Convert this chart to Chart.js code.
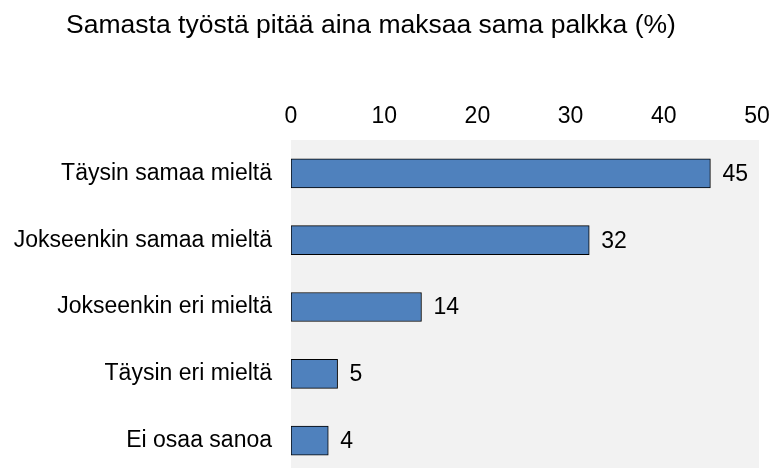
<!DOCTYPE html>
<html>
<head>
<meta charset="utf-8">
<style>
  html, body { margin: 0; padding: 0; background: #fff; overflow: hidden; }
  canvas { display: block; }
</style>
</head>
<body>
<canvas id="chart" width="769" height="474"></canvas>
<script src="https://cdn.jsdelivr.net/npm/chart.js@4"></script>
<script>
var categories = ['Täysin samaa mieltä', 'Jokseenkin samaa mieltä', 'Jokseenkin eri mieltä', 'Täysin eri mieltä', 'Ei osaa sanoa'];
var values = [45, 32, 14, 5, 4];
var titleText = 'Samasta työstä pitää aina maksaa sama palkka (%)';
var FONT = '"Liberation Sans", Arial, sans-serif';

// grey plot background, a touch wider than the scale on the right
var plotBg = {
    id: 'plotBg',
    beforeDraw: function (chart) {
        var a = chart.chartArea, ctx = chart.ctx;
        ctx.save();
        ctx.fillStyle = '#f2f2f2';
        ctx.fillRect(a.left, a.top, a.right - a.left + 2, a.bottom - a.top);
        ctx.restore();
    }
};

var titleDraw = {
    id: 'titleDraw',
    afterDraw: function (chart) {
        var ctx = chart.ctx;
        ctx.save();
        ctx.font = '26.5px ' + FONT;
        ctx.fillStyle = '#000';
        ctx.textAlign = 'center';
        ctx.textBaseline = 'alphabetic';
        ctx.fillText(titleText, 371, 33);
        ctx.restore();
    }
};

var valueLabels = {
    id: 'valueLabels',
    afterDatasetsDraw: function (chart) {
        var ctx = chart.ctx;
        var meta = chart.getDatasetMeta(0);
        ctx.save();
        ctx.font = '23px ' + FONT;
        ctx.fillStyle = '#000';
        ctx.textAlign = 'left';
        ctx.textBaseline = 'middle';
        meta.data.forEach(function (bar, i) {
            ctx.fillText(values[i], bar.x + 12, bar.y + 1);
        });
        ctx.restore();
    }
};

var ctx = document.getElementById('chart').getContext('2d');
var chart = new Chart(ctx, {
    type: 'bar',
    data: {
        labels: categories,
        datasets: [{
            data: values,
            backgroundColor: '#4f81bd',
            borderColor: '#000',
            borderWidth: 1,
            borderSkipped: false,
            barThickness: 29
        }]
    },
    options: {
        indexAxis: 'y',
        responsive: false,
        animation: false,
        layout: { padding: { top: 100, right: 12, left: 0, bottom: 0 } },
        plugins: {
            legend: { display: false },
            tooltip: { enabled: false }
        },
        scales: {
            x: {
                position: 'top',
                min: 0,
                max: 50,
                grid: { display: false, drawTicks: false },
                border: { display: false },
                ticks: {
                    stepSize: 10,
                    padding: 10,
                    color: '#000',
                    font: { family: FONT, size: 23 }
                },
                afterFit: function (s) {
                    s.height = 40;
                    s.paddingLeft = 0;
                    s.paddingRight = 0;
                }
            },
            y: {
                grid: { display: false, drawTicks: false },
                border: { display: false },
                ticks: {
                    padding: 19,
                    color: '#000',
                    font: { family: FONT, size: 23 }
                },
                afterFit: function (s) {
                    s.width = 291;
                    s.paddingTop = 0;
                    s.paddingBottom = 0;
                }
            }
        }
    },
    plugins: [plotBg, titleDraw, valueLabels]
});
</script>
</body>
</html>
